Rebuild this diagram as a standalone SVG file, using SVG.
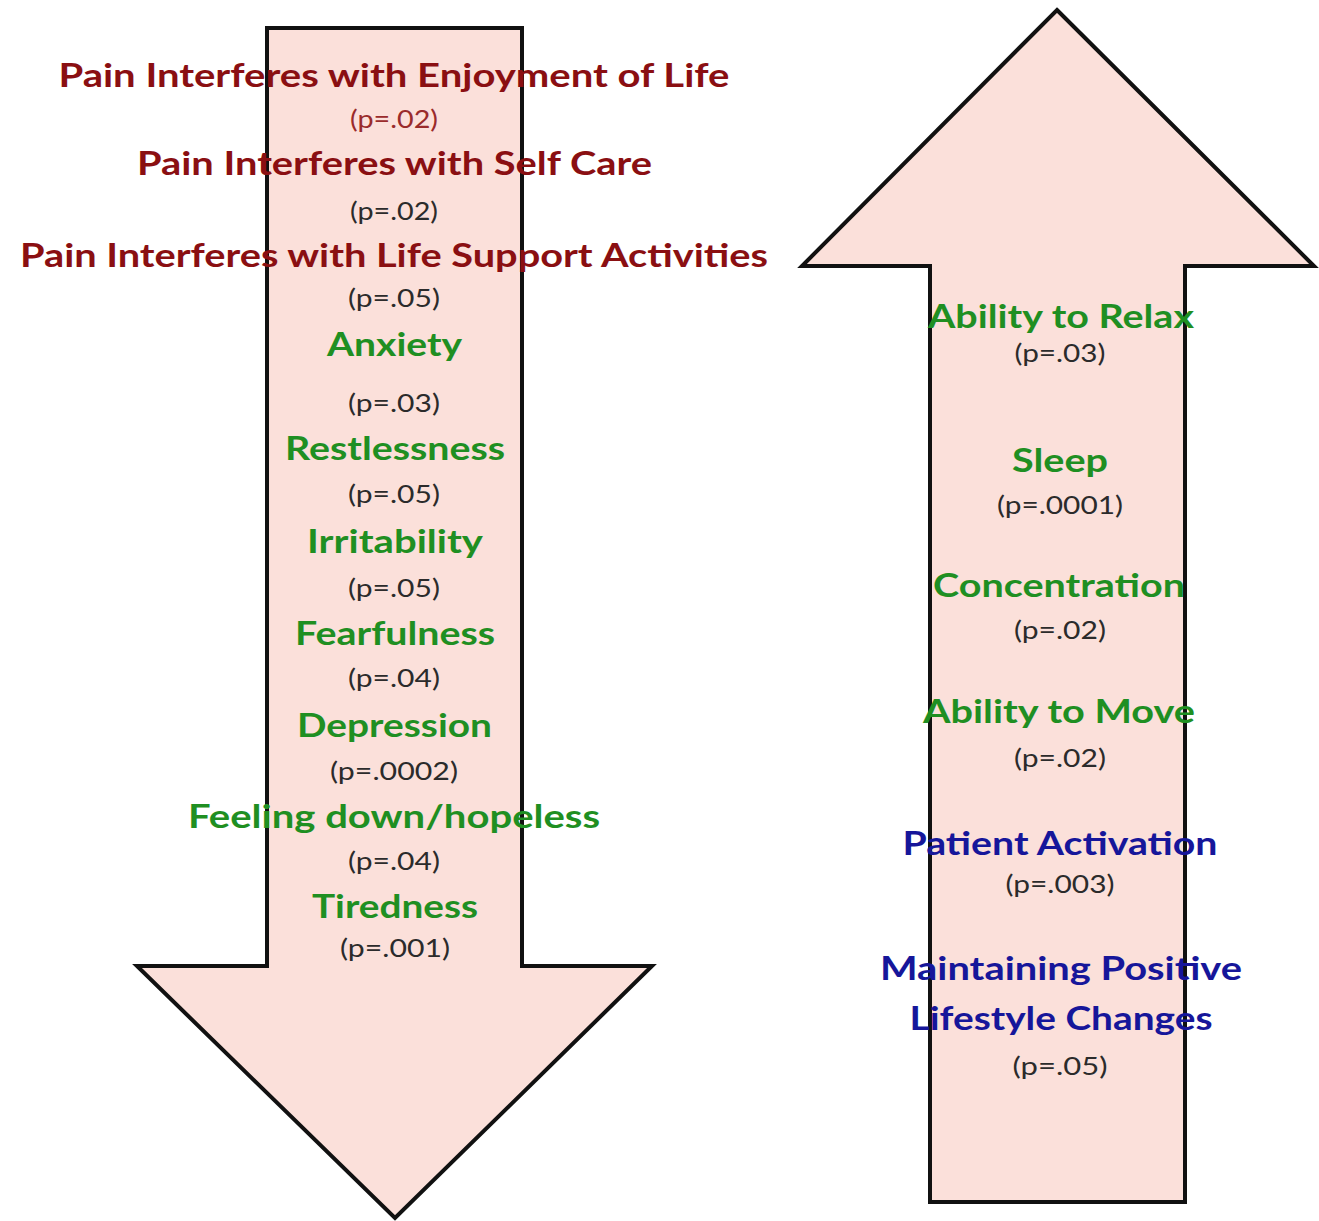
<svg xmlns="http://www.w3.org/2000/svg" width="1319" height="1221" viewBox="0 0 1319 1221">
<style>
.arrow{fill:#FBE0DA;stroke:#111;stroke-width:4;stroke-linejoin:miter}
text{font-family:Lato,"Open Sans","Liberation Sans",sans-serif;text-anchor:middle}
.t{font-weight:bold;font-size:33px}
.red{fill:#8A0F12}
.grn{fill:#1F8F22}
.blu{fill:#16169A}
.p{font-size:25px;fill:#2B2B2B}
.pr{fill:#9A2B2B}
</style>
<rect width="1319" height="1221" fill="#fff"/>
<g id="connectors">
<polygon id="down-arrow" class="arrow" points="267,28 522,28 522,966 652,966 395,1218 137,966 267,966"/>
<polygon id="up-arrow" class="arrow" points="1057,10 1314,266 1185,266 1185,1202 930,1202 930,266 802,266"/>
</g>
<g id="left-items">
<g id="n-enjoyment"><text class="t red" x="394" y="87" textLength="671" lengthAdjust="spacingAndGlyphs">Pain Interferes with Enjoyment of Life</text><text class="p pr" x="394" y="128" textLength="88" lengthAdjust="spacingAndGlyphs">(p=.02)</text></g>
<g id="n-selfcare"><text class="t red" x="394.5" y="175" textLength="515" lengthAdjust="spacingAndGlyphs">Pain Interferes with Self Care</text><text class="p" x="394" y="220" textLength="88" lengthAdjust="spacingAndGlyphs">(p=.02)</text></g>
<g id="n-lifesupport"><text class="t red" x="394" y="267" textLength="748" lengthAdjust="spacingAndGlyphs">Pain Interferes with Life Support Activities</text><text class="p" x="394" y="307" textLength="92" lengthAdjust="spacingAndGlyphs">(p=.05)</text></g>
<g id="n-anxiety"><text class="t grn" x="394.5" y="356" textLength="135" lengthAdjust="spacingAndGlyphs">Anxiety</text><text class="p" x="394" y="412" textLength="92" lengthAdjust="spacingAndGlyphs">(p=.03)</text></g>
<g id="n-restless"><text class="t grn" x="395" y="460" textLength="220" lengthAdjust="spacingAndGlyphs">Restlessness</text><text class="p" x="394" y="503" textLength="92" lengthAdjust="spacingAndGlyphs">(p=.05)</text></g>
<g id="n-irrit"><text class="t grn" x="395" y="553" textLength="176" lengthAdjust="spacingAndGlyphs">Irritability</text><text class="p" x="394" y="597" textLength="92" lengthAdjust="spacingAndGlyphs">(p=.05)</text></g>
<g id="n-fear"><text class="t grn" x="395" y="645" textLength="200" lengthAdjust="spacingAndGlyphs">Fearfulness</text><text class="p" x="394" y="687" textLength="92" lengthAdjust="spacingAndGlyphs">(p=.04)</text></g>
<g id="n-depr"><text class="t grn" x="394.5" y="737" textLength="195" lengthAdjust="spacingAndGlyphs">Depression</text><text class="p" x="394" y="780" textLength="128" lengthAdjust="spacingAndGlyphs">(p=.0002)</text></g>
<g id="n-feeling"><text class="t grn" x="394" y="828" textLength="412" lengthAdjust="spacingAndGlyphs">Feeling down/hopeless</text><text class="p" x="394" y="870" textLength="92" lengthAdjust="spacingAndGlyphs">(p=.04)</text></g>
<g id="n-tired"><text class="t grn" x="395" y="918" textLength="166" lengthAdjust="spacingAndGlyphs">Tiredness</text><text class="p" x="395" y="957" textLength="110" lengthAdjust="spacingAndGlyphs">(p=.001)</text></g>
</g>
<g id="right-items">
<g id="n-relax"><text class="t grn" x="1061" y="328" textLength="266" lengthAdjust="spacingAndGlyphs">Ability to Relax</text><text class="p" x="1060" y="362" textLength="91" lengthAdjust="spacingAndGlyphs">(p=.03)</text></g>
<g id="n-sleep"><text class="t grn" x="1060" y="472" textLength="96" lengthAdjust="spacingAndGlyphs">Sleep</text><text class="p" x="1060" y="514" textLength="126" lengthAdjust="spacingAndGlyphs">(p=.0001)</text></g>
<g id="n-conc"><text class="t grn" x="1059" y="597" textLength="252" lengthAdjust="spacingAndGlyphs">Concentration</text><text class="p" x="1060" y="639" textLength="92" lengthAdjust="spacingAndGlyphs">(p=.02)</text></g>
<g id="n-move"><text class="t grn" x="1059" y="723" textLength="272" lengthAdjust="spacingAndGlyphs">Ability to Move</text><text class="p" x="1060" y="767" textLength="92" lengthAdjust="spacingAndGlyphs">(p=.02)</text></g>
<g id="n-activation"><text class="t blu" x="1060" y="855" textLength="315" lengthAdjust="spacingAndGlyphs">Patient Activation</text><text class="p" x="1060" y="893" textLength="109" lengthAdjust="spacingAndGlyphs">(p=.003)</text></g>
<g id="n-lifestyle"><text class="t blu" x="1061" y="980" textLength="362" lengthAdjust="spacingAndGlyphs">Maintaining Positive</text><text class="t blu" x="1061" y="1030" textLength="303" lengthAdjust="spacingAndGlyphs">Lifestyle Changes</text><text class="p" x="1060" y="1075" textLength="95" lengthAdjust="spacingAndGlyphs">(p=.05)</text></g>
</g>
</svg>
